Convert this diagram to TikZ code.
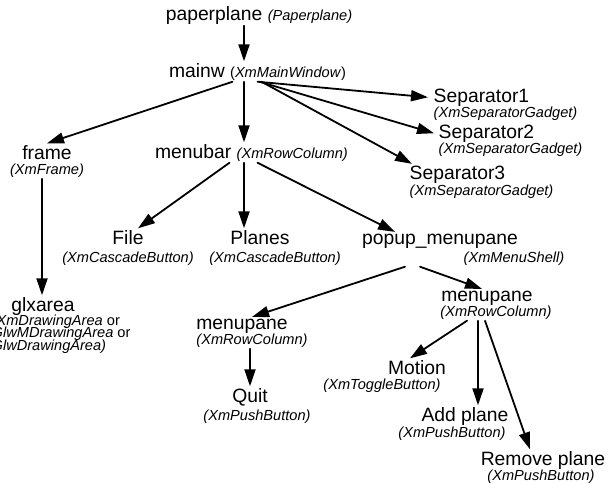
\documentclass[tikz,border=0pt]{standalone}
\usepackage{fontspec}
\setmainfont{Liberation Sans}
\usetikzlibrary{arrows.meta}
\newcommand{\tyfont}{\fontsize{14.6}{12.5}\selectfont\itshape\lineskiplimit=-20pt\relax}
\tikzset{
  nm/.style={inner sep=1.5pt, font=\fontsize{19.3}{21}\selectfont, anchor=base},
  ty/.style={inner sep=1.5pt, font=\tyfont, anchor=base},
  arr/.style={-{Triangle[length=17pt,width=11pt]}, line width=1.8pt},
  every picture/.style={line cap=round, line join=round}
}
\newcommand{\typ}[1]{{\fontsize{14.6}{12.5}\selectfont\itshape #1}}

\begin{document}
\begin{tikzpicture}[x=1pt,y=-1pt]
    \useasboundingbox (0,0) rectangle (611,483);

    \node[nm] (pp) at (259,20) {paperplane \typ{(Paperplane)}};
    \node[nm] (mw) at (257.5,77) {mainw {\fontsize{14.6}{12.5}\selectfont(\textit{XmMainWindow})}};
    \node[nm] (mb) at (251.5,158) {menubar \typ{(XmRowColumn)}};

    \node[nm] (frame) at (47,159) {frame};
    \node[ty] (frT) at (47,174) {(XmFrame)};
    \node[nm] (glx) at (43,311) {glxarea};
    \node[ty, anchor=north west, align=left] (glxT) at (-10,313)
      {(XmDrawingArea\/ \upshape or\\GlwMDrawingArea\/ \upshape or\\GlwDrawingArea)};

    \node[nm, anchor=base west] (s1) at (432,102) {Separator1};
    \node[ty, anchor=base west] (s1T) at (432,117) {(XmSeparatorGadget)};
    \node[nm, anchor=base west] (s2) at (437,138) {Separator2};
    \node[ty, anchor=base west] (s2T) at (437,153) {(XmSeparatorGadget)};
    \node[nm, anchor=base west] (s3) at (408,179) {Separator3};
    \node[ty, anchor=base west] (s3T) at (408,195) {(XmSeparatorGadget)};

    \node[nm] (file) at (128,244) {File};
    \node[ty] (fileT) at (128,262) {(XmCascadeButton)};
    \node[nm] (planes) at (260,244) {Planes};
    \node[ty] (planesT) at (275,262) {(XmCascadeButton)};
    \node[nm] (pu) at (440,244) {popup\_menupane};
    \node[ty] (puT) at (514,262) {(XmMenuShell)};

    \node[nm] (mpR) at (487,301) {menupane};
    \node[ty] (mpRT) at (496,316) {(XmRowColumn)};
    \node[nm] (mpL) at (242,329) {menupane};
    \node[ty] (mpLT) at (252,344) {(XmRowColumn)};

    \node[nm] (quit) at (250,402) {Quit};
    \node[ty] (quitT) at (257,420) {(XmPushButton)};
    \node[nm] (motion) at (417,374) {Motion};
    \node[ty] (motionT) at (382,389) {(XmToggleButton)};
    \node[nm] (add) at (465,421) {Add plane};
    \node[ty] (addT) at (452,437) {(XmPushButton)};
    \node[nm] (rem) at (543,465) {Remove plane};
    \node[ty] (remT) at (541,480) {(XmPushButton)};

    \draw[arr] ([xshift=-15pt]pp.south) -- ([xshift=-13.5pt]mw.north);
    \draw[arr] ([xshift=-25pt]mw.south) -- (frame.north);
    \draw[arr] ([xshift=-13.5pt]mw.south) -- ([xshift=-7.5pt]mb.north);
    \draw[arr] (mw.south) -- ([xshift=-4pt]s1.west);
    \draw[arr] ([xshift=2pt]mw.south) -- ([xshift=-3pt]s2.west);
    \draw[arr] ([xshift=4pt]mw.south) -- ([xshift=4pt]s3.north west);

    \draw[arr] ([xshift=-5pt]frT.south) -- ([xshift=-1pt]glx.north);

    \draw[arr] ([xshift=-22pt]mb.south) -- ([xshift=10pt]file.north);
    \draw[arr] ([xshift=-7.5pt]mb.south) -- ([xshift=-16pt]planes.north);
    \draw[arr] ([xshift=6pt]mb.south) -- ([xshift=-45pt]pu.north);

    \draw[arr] ([xshift=-109pt]puT.south) -- ([xshift=10pt]mpL.north);
    \draw[arr] ([xshift=-94pt]puT.south) -- ([xshift=-5pt]mpR.north);

    \draw[arr] ([xshift=-2pt]mpLT.south) -- (quit.north);

    \draw[arr] ([xshift=-29pt]mpRT.south) -- ([xshift=-7pt]motion.north);
    \draw[arr] ([xshift=-18pt]mpRT.south) -- ([xshift=13pt]add.north);
    \draw[arr] ([xshift=-11pt]mpRT.south) -- ([xshift=-13pt]rem.north);
  \end{tikzpicture}
\end{document}
